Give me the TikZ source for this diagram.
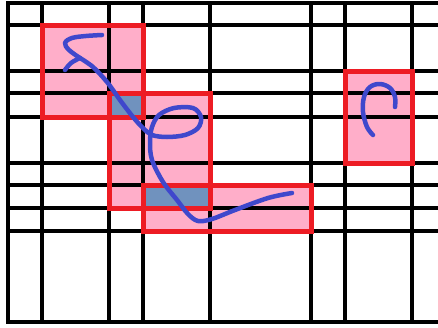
\documentclass[tikz,border=0pt]{standalone}
\definecolor{boxred}{HTML}{ED1C24}
\definecolor{boxpink}{HTML}{FFAEC9}
\definecolor{bothgray}{HTML}{7092BE}
\definecolor{penblue}{HTML}{3F48CC}
\tikzset{
  gridline/.style={line width=3.2pt,black,line cap=rect},
  hitbox/.style={line width=5pt,boxred},
  hitfill/.style={fill=boxpink},
  bothfill/.style={fill=bothgray},
  pen/.style={line width=4.5pt,penblue,line cap=round,line join=round}
}
\begin{document}
\begin{tikzpicture}[x=1pt,y=-1pt]
\useasboundingbox (0,0) rectangle (438,327);

% filled cells under the strokes
\fill[hitfill] (42,25) rectangle (143,117);
\fill[hitfill] (109,93) rectangle (210,208);
\fill[hitfill] (143,185) rectangle (311,231);
\fill[hitfill] (345,71) rectangle (412,163);
\fill[bothfill] (109,93) rectangle (143,117);
\fill[bothfill] (143,185) rectangle (210,208);

% grid
\foreach \x in {8,42,109,143,210,311,345,412}
  \draw[gridline] (\x,3) -- (\x,322);
\foreach \y in {3,25,71,93,117,163,185,208,231,322}
  \draw[gridline] (8,\y) -- (438,\y);

% box outlines
\draw[hitbox] (42,25) rectangle (143,117);
\draw[hitbox] (109,93) rectangle (210,208);
\draw[hitbox] (143,185) rectangle (311,231);
\draw[hitbox] (345,71) rectangle (412,163);

% strokes
\draw[pen] plot[smooth,tension=0.6] coordinates {(102,35) (86,36) (72,38) (65,43) (69,50) (80,58)};
\draw[pen] plot[smooth,tension=0.6] coordinates {(65,70) (71,63) (80,58)};
\draw[pen] plot[smooth,tension=0.55] coordinates {(80,58) (93,67) (107,82) (120,100) (133,117) (143,128) (152,135)
  (167,137) (185,135) (198,128) (201,117) (193,108) (174,108) (159,115) (152,127) (150,142) (152,160)
  (163,182) (177,200) (188,214) (198,221) (212,219) (235,210) (268,198) (292,193)};
\draw[pen] plot[smooth,tension=0.6] coordinates {(395,107) (395,97) (390,88) (380,84) (370,87) (364,97) (363,112) (367,127) (373,135)};
\end{tikzpicture}
\end{document}
